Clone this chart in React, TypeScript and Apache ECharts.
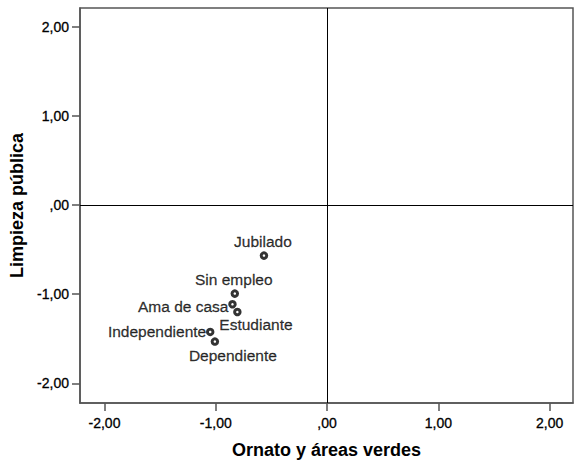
import React, { useEffect, useRef } from "react";
import * as echarts from "echarts";

const categories = ["Jubilado", "Sin empleo", "Ama de casa", "Estudiante", "Independiente", "Dependiente"];
const xValues = [-0.567, -0.829, -0.85, -0.806, -1.05, -1.008];
const yValues = [-0.567, -0.993, -1.113, -1.199, -1.423, -1.531];
const xTicks = [-2, -1, 0, 1, 2];
const yTicks = [-2, -1, 0, 1, 2];

const labelPlacement: Record<string, { align: string; offset: number[] }> = {
  Jubilado: { align: "center", offset: [-1, -14] },
  "Sin empleo": { align: "center", offset: [-1, -14] },
  "Ama de casa": { align: "right", offset: [-4, 2] },
  Estudiante: { align: "left", offset: [-18, 13] },
  Independiente: { align: "right", offset: [-4, 0] },
  Dependiente: { align: "center", offset: [18, 14] },
};

const fmt = (v: number) => {
  const s = Math.abs(v).toFixed(2).replace(".", ",");
  const t = s.startsWith("0") ? s.slice(1) : s;
  return (v < 0 ? "-" : "") + t;
};

export default function App() {
  const ref = useRef<HTMLDivElement>(null);
  useEffect(() => {
    const chart = echarts.init(ref.current!, null, { renderer: "svg" });
    const font = "'Liberation Sans', Arial, sans-serif";
    const axisCommon = {
      min: -2.22,
      max: 2.21,
      axisLine: { show: true, onZero: false, lineStyle: { color: "#555", width: 1.5 } },
      axisTick: { show: true, length: 8, lineStyle: { color: "#555", width: 1.5 } },
      splitLine: { show: false },
      axisLabel: {
        color: "#000",
        fontFamily: font,
        fontSize: 14,
        textBorderColor: "#000",
        textBorderWidth: 0.3,
        formatter: (v: number) => fmt(v),
        showMinLabel: true,
        showMaxLabel: true,
      },
      nameTextStyle: { color: "#000", fontFamily: font, fontSize: 18, fontWeight: "bold" as const },
    };
    chart.setOption({
      animation: false,
      backgroundColor: "#fff",
      grid: { left: 80, top: 8, right: 1, bottom: 60, show: true, borderColor: "#555", borderWidth: 1.5 },
      xAxis: {
        type: "value",
        ...axisCommon,
        axisTick: { ...axisCommon.axisTick, customValues: xTicks },
        axisLabel: { ...axisCommon.axisLabel, customValues: xTicks, margin: 13 },
        name: "Ornato y áreas verdes",
        nameLocation: "middle",
        nameGap: 38,
      },
      yAxis: {
        type: "value",
        ...axisCommon,
        axisTick: { ...axisCommon.axisTick, customValues: yTicks },
        axisLabel: { ...axisCommon.axisLabel, customValues: yTicks, margin: 11 },
        name: "Limpieza pública",
        nameLocation: "middle",
        nameGap: 52,
      },
      series: [
        {
          type: "scatter",
          symbol: "circle",
          symbolSize: 5.5,
          itemStyle: { color: "#fff", borderColor: "#000", borderWidth: 3 },
          data: categories.map((c, i) => ({
            value: [xValues[i], yValues[i]],
            name: c,
            label: {
              show: true,
              position: "inside",
              formatter: c,
              align: labelPlacement[c].align,
              verticalAlign: "middle",
              offset: labelPlacement[c].offset,
              color: "#000",
              fontFamily: font,
              fontSize: 15.5,
              textBorderColor: "#000",
              textBorderWidth: 0.3,
            },
          })),
          markLine: {
            silent: true,
            symbol: "none",
            label: { show: false },
            lineStyle: { color: "#000", width: 1, type: "solid" },
            data: [{ xAxis: 0 }, { yAxis: 0 }],
          },
        },
      ],
    });
    return () => chart.dispose();
  }, []);
  return <div ref={ref} style={{ width: 574, height: 464, position: "absolute", left: 0, top: 0 }} />;
}
